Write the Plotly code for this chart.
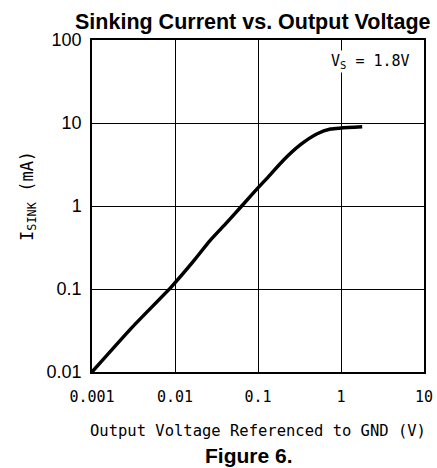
import plotly.graph_objects as go

# Data
v_out = [0.001, 0.0031, 0.0091, 0.0166, 0.0264, 0.042, 0.0637, 0.092, 0.129, 0.205, 0.325, 0.517, 0.747, 1.0, 1.8]
i_sink = [0.01, 0.0352, 0.107, 0.215, 0.383, 0.63, 1.0, 1.51, 2.17, 3.61, 5.48, 7.43, 8.47, 8.7, 9.0]

x_ticks = [0.001, 0.01, 0.1, 1, 10]
x_tick_text = ["0.001", "0.01", "0.1", "1", "10"]
y_ticks = [0.01, 0.1, 1, 10, 100]
y_tick_text = ["0.01", "0.1", "1", "10", "100"]

fig = go.Figure()
fig.add_trace(go.Scatter(
    x=v_out, y=i_sink, mode="lines",
    line=dict(color="black", width=3.5, shape="spline", smoothing=0.6),
    showlegend=False, hoverinfo="skip",
))

mono = "DejaVu Sans Mono"
sans = "Liberation Sans, Arial, sans-serif"

fig.update_layout(
    width=437, height=468,
    margin=dict(l=92, r=13, t=40, b=96, autoexpand=False),
    paper_bgcolor="white", plot_bgcolor="white",
    xaxis=dict(
        type="log", range=[-3, 1], automargin=False,
        tickvals=x_ticks, ticktext=x_tick_text,
        showgrid=True, gridcolor="black", gridwidth=1,
        showline=True, linecolor="black", linewidth=1.5, mirror=True,
        ticks="", zeroline=False, ticklabelstandoff=10,
        tickfont=dict(family=mono, size=15, color="black"),
    ),
    yaxis=dict(
        type="log", range=[-2, 2], automargin=False,
        tickvals=y_ticks, ticktext=y_tick_text,
        showgrid=True, gridcolor="black", gridwidth=1,
        showline=True, linecolor="black", linewidth=1.5, mirror=True,
        ticks="", zeroline=False, ticklabelstandoff=5,
        tickfont=dict(family=sans, size=18, color="black"),
    ),
    annotations=[
        dict(text="<b>Sinking Current vs. Output Voltage</b>", xref="paper", yref="paper",
             x=0.485, y=1.055, xanchor="center", yanchor="middle", showarrow=False,
             font=dict(family=sans, size=21.5, color="black")),
        dict(text="V<sub>S</sub> = 1.8V", xref="paper", yref="paper",
             x=0.84, y=0.935, xanchor="center", yanchor="middle", showarrow=False,
             bgcolor="white", font=dict(family=mono, size=15, color="black")),
        dict(text="I<sub>SINK</sub> (mA)", xref="paper", yref="paper",
             x=-0.193, y=0.53, xanchor="center", yanchor="middle", showarrow=False,
             textangle=-90, font=dict(family=mono, size=17, color="black")),
        dict(text="Output Voltage Referenced to GND (V)", xref="paper", yref="paper",
             x=0.5, y=-0.178, xanchor="center", yanchor="middle", showarrow=False,
             font=dict(family=mono, size=15.5, color="black")),
        dict(text="<b>Figure 6.</b>", xref="paper", yref="paper",
             x=0.473, y=-0.253, xanchor="center", yanchor="middle", showarrow=False,
             font=dict(family=sans, size=21, color="black")),
    ],
)

fig.write_html("out.html", config={"displayModeBar": False},
               post_script="document.body.style.margin='0';")
